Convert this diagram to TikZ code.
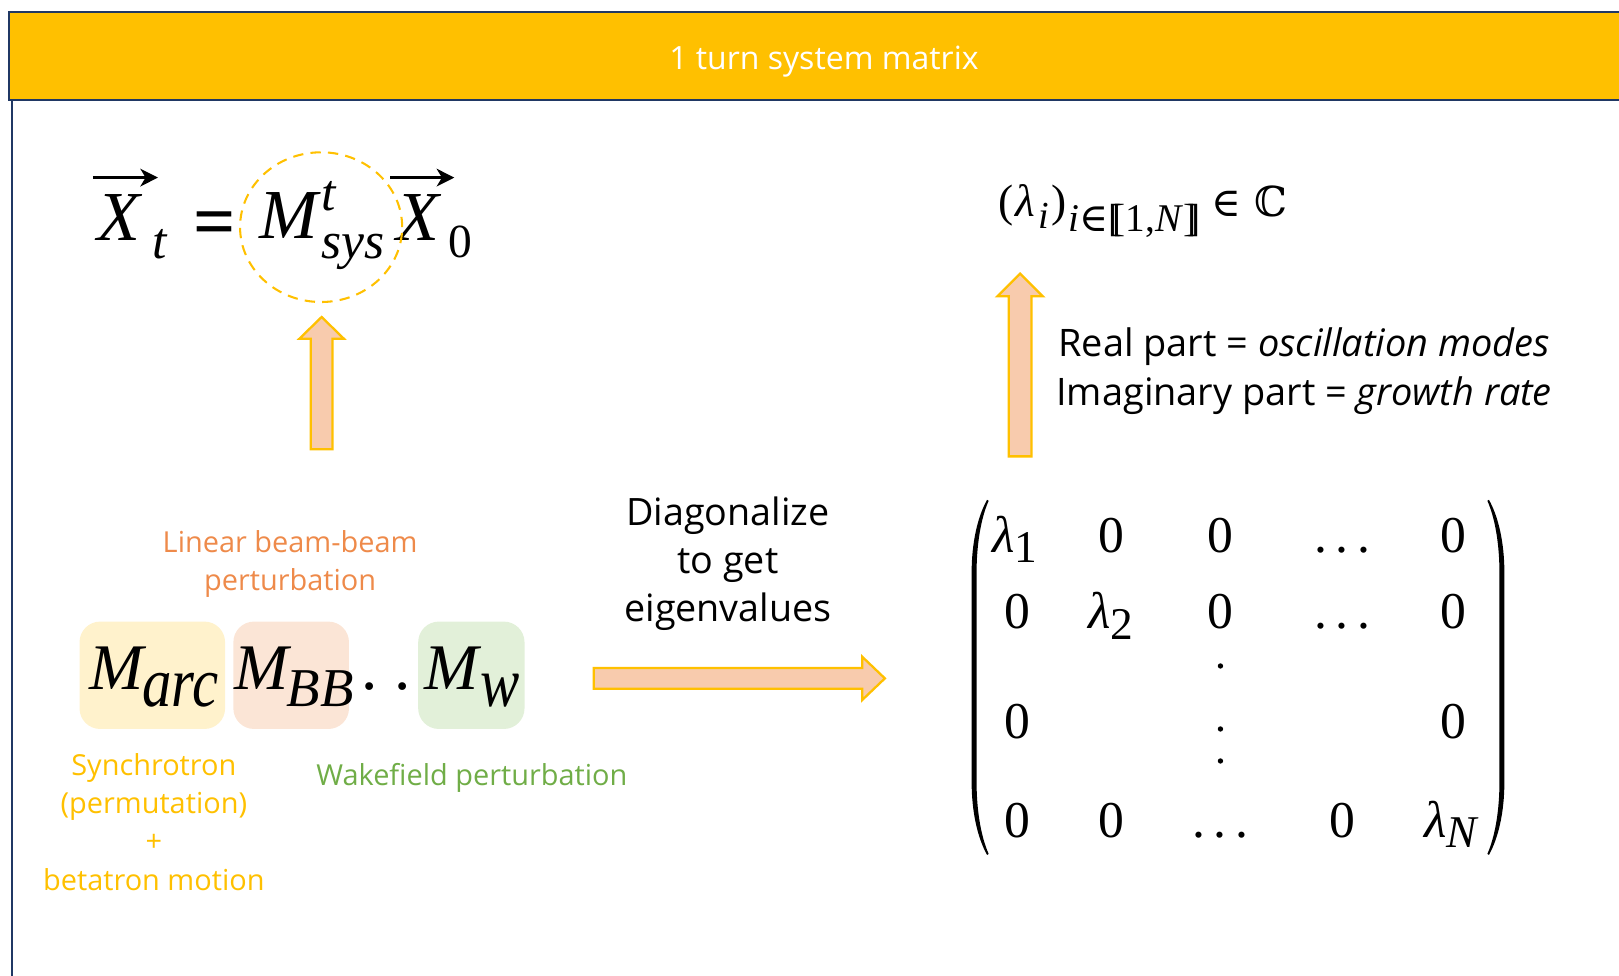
\documentclass[tikz,border=0pt]{standalone}
\usepackage{graphicx}
\usepackage[no-math]{fontspec}
\setmainfont{Open Sans}
\newfontfamily\tmsf{Liberation Serif}
\newfontfamily\djs{DejaVu Serif}
\usetikzlibrary{shapes.geometric,calc,arrows.meta}
\definecolor{gold}{HTML}{FFC000}
\definecolor{peach}{HTML}{F8CBAD}
\definecolor{navy}{HTML}{203864}
\definecolor{bborange}{HTML}{EE8A4A}
\definecolor{wgreen}{HTML}{70AD47}
\definecolor{boxyellow}{HTML}{FFF2CC}
\definecolor{boxsalmon}{HTML}{FBE5D6}
\definecolor{boxgreen}{HTML}{E2F0D9}
% size, lowering, text
\newcommand\lsub[3]{\lower#2pt\hbox{\fontsize{#1}{#1}\selectfont #3}}
\newcommand\drawparen[2]{%
\fill ({#1+#2*15},484) .. controls ({#1+#2*6},500) and (#1,525) .. (#1,555) -- (#1,757) .. controls (#1,787) and ({#1+#2*6},812) .. ({#1+#2*15},828) -- ({#1+#2*16.5},827) .. controls ({#1+#2*9},810) and ({#1+#2*4.8},785) .. ({#1+#2*4.8},757) -- ({#1+#2*4.8},555) .. controls ({#1+#2*4.8},527) and ({#1+#2*9},502) .. ({#1+#2*16.5},485) -- cycle;}
\tikzset{
  blockarrow/.style={fill=peach, draw=gold, line width=2.2pt, line join=miter},
  lbl/.style={inner sep=0pt, align=center, font=\fontsize{28}{37}\selectfont},
  blk/.style={inner sep=0pt, align=center, font=\fontsize{36.7}{47.5}\selectfont},
  mat/.style={inner sep=0pt, anchor=base, font=\tmsf\fontsize{50}{60}\selectfont},
  mbox/.style={rounded corners=20pt, minimum height=104pt, inner sep=0pt},
  mbig/.style={inner sep=0pt, anchor=base, font=\tmsf\itshape\fontsize{63}{70}\selectfont},
  msub/.style={inner sep=0pt, anchor=base, font=\tmsf\itshape\fontsize{57}{64}\selectfont},
  eqbig/.style={inner sep=0pt, anchor=base, font=\tmsf\itshape\fontsize{68}{76}\selectfont},
  eqsub/.style={inner sep=0pt, anchor=base, font=\tmsf\itshape\fontsize{50}{56}\selectfont},
  vecarrow/.style={line width=3pt, -{Stealth[length=17pt,width=17pt,inset=5pt]}},
}
\begin{document}
\begin{tikzpicture}[x=1pt,y=-1pt]
\useasboundingbox (0,0) rectangle (1568,945);
\clip (0,0) rectangle (1568,945);
% frame and header band
\draw[navy, line width=1.8pt] (11.5,96) -- (11.5,960);
\node[draw=navy, fill=gold, line width=2pt, minimum width=1578pt, minimum height=85pt, inner sep=0pt] (band) at (798,54.5) {};
\node[inner sep=0pt, text=white, font=\fontsize{31}{37}\selectfont] (title) at (798,60) {1 turn system matrix};

% top-left equation
\node[eqbig] (x1) at (115.5,232.5) {X};
\node[eqsub] (x1t) at (155,250) {t};
\node[inner sep=0pt, anchor=base, font=\tmsf\bfseries\fontsize{72}{80}\selectfont] (eqs) at (208,239) {=};
\node[eqbig] (msys) at (280,231) {M};
\node[eqsub] (msyst) at (318.5,204) {t};
\node[eqsub] (msyss) at (341.5,250) {sys};
\node[eqbig] (x2) at (404.5,232.5) {X};
\node[inner sep=0pt, anchor=base, font=\tmsf\fontsize{46}{52}\selectfont] (x2z) at (446,249) {0};
\coordinate (v1s) at (90,172); \coordinate (v1e) at (153,172);
\coordinate (v2s) at (378,172); \coordinate (v2e) at (440,172);
\draw[vecarrow] (v1s) -- (v1e);
\draw[vecarrow] (v2s) -- (v2e);
\node[draw=gold, dash pattern=on 10pt off 7pt, line width=2pt, ellipse, minimum width=157pt, minimum height=145pt, inner sep=0pt] (circ) at (311,220) {};

% up arrow 1
\coordinate (a1b) at (311.5,435);
\coordinate (a1t) at (311.5,307);
\draw[blockarrow] ($(a1b)+(-10.5,0)$) -- ($(a1b)+(10.5,0)$) -- (322,328) -- (333,328) -- (a1t) -- (290,328) -- (301,328) -- cycle;

% eigenvalue set
\node[inner sep=0pt, anchor=base west, font=\tmsf\fontsize{44}{50}\selectfont] (eig) at (967,210)
 {(\kern2pt\textit{λ}\kern3pt\lsub{37}{11}{\textit{i}}\kern2pt)\kern2pt\lsub{38}{14}{\textit{i}{\djs ∈}[\kern-0.22em[1,\textit{N}]\kern-0.22em]}};
\node[inner sep=0pt, anchor=base west, font=\tmsf\fontsize{44}{50}\selectfont] (eigin) at (1173,210)
 {\lsub{39}{0}{\djs ∈}\hspace{0.3em}\lsub{40}{0}{\djs ℂ}};

% up arrow 2
\coordinate (a2b) at (988,442);
\coordinate (a2t) at (988,265);
\draw[blockarrow] (977,442) -- (999,442) -- (999,287) -- (1010,287) -- (a2t) -- (966,287) -- (977,287) -- cycle;

\node[blk] (parts) at (1263,359) {Real part = \textit{oscillation modes}\\Imaginary part = \textit{growth rate}};

% matrix product boxes
\node[mbox, fill=boxyellow, minimum width=141pt] (barc) at (147.5,654) {};
\node[mbox, fill=boxsalmon, minimum width=112pt] (bbb) at (282,654) {};
\node[mbox, fill=boxgreen, minimum width=103pt] (bw) at (456.5,654) {};
\node[mbig] (marc) at (113,668) {M};
\node[msub] (marcs) at (175,684) {\scalebox{1}[1.2]{arc}};
\node[mbig] (mbb) at (253,668) {M};
\node[msub, font=\tmsf\itshape\fontsize{53}{60}\selectfont] (mbbs) at (310,684) {BB};
\node[mbig, font=\tmsf\fontsize{63}{70}\selectfont] (mdots) at (374,668) {.\kern 16pt.};
\node[mbig] (mw) at (437,668) {M};
\node[msub] (mws) at (484,684) {\scalebox{1}[1.2]{w}};

\node[lbl, text=bborange] (lbb) at (281,546) {Linear beam-beam\\perturbation};
\node[lbl, text=gold] (lsync) at (149,796) {Synchrotron\\(permutation)\\+\\betatron motion};
\node[lbl, text=wgreen] (lwake) at (457,753) {Wakefield perturbation};

% diagonalize
\node[inner sep=0pt, align=center, font=\fontsize{36.5}{46.5}\selectfont] (diag) at (705,546) {Diagonalize\\to get\\eigenvalues};
\draw[blockarrow] (575,647) -- (835,647) -- (835,636) -- (857,657) -- (835,678) -- (835,667) -- (575,667) -- cycle;

% diagonal matrix
\drawparen{941}{1}
\drawparen{1457}{-1}
\node[mat] (m11) at (983,535) {\textit{λ}\lsub{44}{10}{1}};
\node[mat] (m12) at (1076,535) {0};
\node[mat] (m13) at (1182,535) {0};
\node[mat] (m14) at (1300,535) {.\,.\,.};
\node[mat] (m15) at (1408,535) {0};
\node[mat] (m21) at (985,609) {0};
\node[mat] (m22) at (1076,609) {\textit{λ}\lsub{44}{10}{2}};
\node[mat] (m23) at (1182,609) {0};
\node[mat] (m24) at (1300,609) {.\,.\,.};
\node[mat] (m25) at (1408,609) {0};
\node[mat] (m31) at (985,715) {0};
\node[mat] (m35) at (1408,715) {0};
\node[mat] (m41) at (985,811) {0};
\node[mat] (m42) at (1076,811) {0};
\node[mat] (m43) at (1182,811) {.\,.\,.};
\node[mat] (m44) at (1300,811) {0};
\node[mat] (m45) at (1406,811) {\textit{λ}\lsub{44}{10}{\textit{N}}};
\fill (1182,645) circle (2.6pt);
\fill (1182,706) circle (2.6pt);
\fill (1182,737) circle (2.6pt);
\end{tikzpicture}
\end{document}
